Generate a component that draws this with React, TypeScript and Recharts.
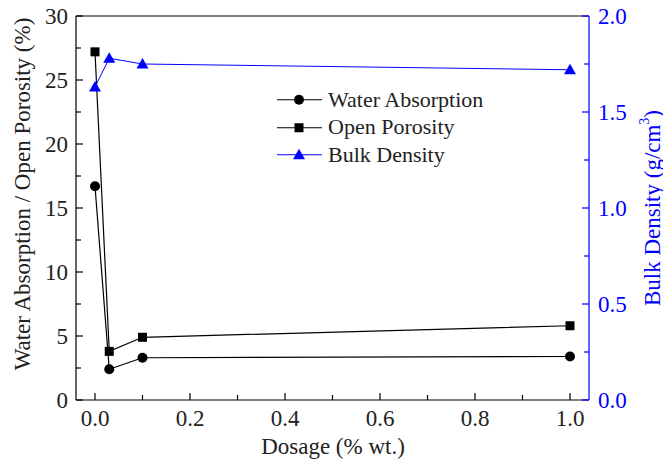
import React from 'react';
import { LineChart, Line, XAxis, YAxis, Legend, ReferenceLine, Label } from 'recharts';

const dosage = [0, 0.03, 0.1, 1.0];
const waterAbsorption = [16.7, 2.4, 3.3, 3.4];
const openPorosity = [27.2, 3.8, 4.9, 5.8];
const bulkDensity = [1.63, 1.78, 1.75, 1.72];

const xTicks = [0, 0.1, 0.2, 0.3, 0.4, 0.5, 0.6, 0.7, 0.8, 0.9, 1.0];
const leftTicks = [0, 2.5, 5, 7.5, 10, 12.5, 15, 17.5, 20, 22.5, 25, 27.5, 30];
const rightTicks = [0, 0.25, 0.5, 0.75, 1.0, 1.25, 1.5, 1.75, 2.0];

const data = dosage.map((d, i) => ({
  dosage: d,
  wa: waterAbsorption[i],
  op: openPorosity[i],
  bd: bulkDensity[i],
}));

const FONT = '"Liberation Serif", "Times New Roman", serif';
const BLUE = '#0000ff';

const XTick = (p: any) => {
  const v = p.payload.value;
  const major = Math.round(v * 10) % 2 === 0;
  return (
    <g>
      <line x1={p.x} y1={p.y} x2={p.x} y2={p.y - (major ? 7 : 5)} stroke="#000" strokeWidth={1.2} />
      {major && (
        <text x={p.x} y={p.y + 26} textAnchor="middle" fontSize={23} fontFamily={FONT} fill="#222">
          {v.toFixed(1)}
        </text>
      )}
    </g>
  );
};

const LeftTick = (p: any) => {
  const v = p.payload.value;
  const major = v % 5 === 0;
  return (
    <g>
      <line x1={p.x} y1={p.y} x2={p.x + (major ? 7 : 5)} y2={p.y} stroke="#000" strokeWidth={1.2} />
      {major && (
        <text x={p.x - 8} y={p.y + 8} textAnchor="end" fontSize={23} fontFamily={FONT} fill="#222">
          {v}
        </text>
      )}
    </g>
  );
};

const RightTick = (p: any) => {
  const v = p.payload.value;
  const major = Math.round(v * 100) % 50 === 0;
  return (
    <g>
      <line x1={p.x} y1={p.y} x2={p.x - (major ? 7 : 5)} y2={p.y} stroke={BLUE} strokeWidth={1.2} />
      {major && (
        <text x={p.x + 9} y={p.y + 8} textAnchor="start" fontSize={23} fontFamily={FONT} fill={BLUE}>
          {v.toFixed(1)}
        </text>
      )}
    </g>
  );
};

const circleDot = (p: any) => <circle key={`c${p.index}`} cx={p.cx} cy={p.cy} r={5} fill="#000" />;
const squareDot = (p: any) => <rect key={`s${p.index}`} x={p.cx - 4.5} y={p.cy - 4.5} width={9} height={9} fill="#000" />;
const triDot = (p: any) => (
  <polygon key={`t${p.index}`} points={`${p.cx},${p.cy - 6} ${p.cx - 6},${p.cy + 4.5} ${p.cx + 6},${p.cy + 4.5}`} fill={BLUE} />
);

const legendItems = [
  { name: 'Water Absorption', color: '#000', shape: 'circle' },
  { name: 'Open Porosity', color: '#000', shape: 'square' },
  { name: 'Bulk Density', color: BLUE, shape: 'triangle' },
];

const LegendBox = () => (
  <div style={{ fontFamily: FONT, fontSize: 22, color: '#222' }}>
    {legendItems.map((it) => (
      <div key={it.name} style={{ display: 'flex', alignItems: 'center', height: 27.5 }}>
        <svg width={51} height={27.5}>
          <line x1={0} y1={13.75} x2={45} y2={13.75} stroke={it.color} strokeWidth={it.shape === 'triangle' ? 1 : 1.2} />
          {it.shape === 'circle' && <circle cx={22} cy={13.75} r={5} fill={it.color} />}
          {it.shape === 'square' && <rect x={17.5} y={9.25} width={9} height={9} fill={it.color} />}
          {it.shape === 'triangle' && <polygon points="22,7.75 16,18.25 28,18.25" fill={it.color} />}
        </svg>
        <span>{it.name}</span>
      </div>
    ))}
  </div>
);

export default function App() {
  return (
    <div style={{ position: 'absolute', left: 0, top: 0 }}>
      <LineChart width={663} height={466} data={data} margin={{ top: 16, right: 0, bottom: 0, left: 0 }}>
        <XAxis
          dataKey="dosage"
          type="number"
          domain={[-0.04, 1.04]}
          ticks={xTicks}
          interval={0}
          height={66}
          tickSize={0}
          tickMargin={0}
          tick={<XTick />}
          stroke="#000"
          strokeWidth={1.2}
        >
          <Label
            content={() => (
              <text x={333} y={454} textAnchor="middle" fontSize={23} fontFamily={FONT} fill="#222">
                Dosage (% wt.)
              </text>
            )}
          />
        </XAxis>
        <YAxis
          yAxisId="left"
          domain={[0, 30]}
          ticks={leftTicks}
          interval={0}
          width={76}
          tickSize={0}
          tickMargin={0}
          tick={<LeftTick />}
          stroke="#000"
          strokeWidth={1.2}
        >
          <Label
            content={() => (
              <text
                x={22}
                y={194}
                transform="rotate(-90, 22, 194)"
                textAnchor="middle"
                dominantBaseline="central"
                fontSize={23}
                fontFamily={FONT}
                fill="#222"
              >
                Water Absorption / Open Porosity (%)
              </text>
            )}
          />
        </YAxis>
        <YAxis
          yAxisId="right"
          orientation="right"
          domain={[0, 2]}
          ticks={rightTicks}
          interval={0}
          width={74}
          tickSize={0}
          tickMargin={0}
          tick={<RightTick />}
          stroke={BLUE}
          strokeWidth={1.2}
        >
          <Label
            content={() => (
              <text
                x={652}
                y={208}
                transform="rotate(-90, 652, 208)"
                textAnchor="middle"
                dominantBaseline="central"
                fontSize={23}
                fontFamily={FONT}
                fill={BLUE}
              >
                Bulk Density (g/cm<tspan dy={-8} fontSize={14}>3</tspan>
                <tspan dy={8}>)</tspan>
              </text>
            )}
          />
        </YAxis>
        <ReferenceLine yAxisId="left" y={30} stroke="#000" strokeWidth={1.2} />
        <Legend
          layout="vertical"
          align="center"
          verticalAlign="middle"
          wrapperStyle={{ left: 277, top: 86, width: 240 }}
          content={() => <LegendBox />}
        />
        <Line
          yAxisId="left"
          dataKey="wa"
          name="Water Absorption"
          stroke="#000"
          strokeWidth={1.2}
          dot={circleDot}
          activeDot={false}
          isAnimationActive={false}
        />
        <Line
          yAxisId="left"
          dataKey="op"
          name="Open Porosity"
          stroke="#000"
          strokeWidth={1.2}
          dot={squareDot}
          activeDot={false}
          isAnimationActive={false}
        />
        <Line
          yAxisId="right"
          dataKey="bd"
          name="Bulk Density"
          stroke={BLUE}
          strokeWidth={1}
          dot={triDot}
          activeDot={false}
          isAnimationActive={false}
        />
      </LineChart>
    </div>
  );
}
